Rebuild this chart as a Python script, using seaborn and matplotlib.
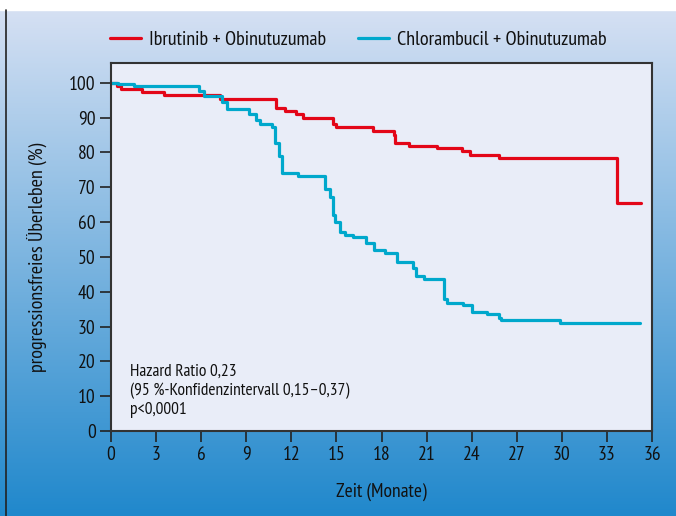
import numpy as np
import matplotlib
matplotlib.use("Agg")
import matplotlib.pyplot as plt
import seaborn as sns
import pandas as pd

# Kaplan-Meier step data: time of each event (months) and survival after it (%)
ibru_t = [0, 0.4, 0.65, 2.05, 3.55, 7.25, 11.0, 11.6, 12.3, 12.8, 14.75, 15.0,
          17.45, 18.8, 18.9, 19.85, 21.7, 23.35, 23.9, 25.85, 33.65, 35.25]
ibru_s = [100, 99.2, 98.2, 97.3, 96.5, 95.4, 92.7, 92.0, 91.0, 90.0, 88.2, 87.3,
          86.3, 84.9, 82.8, 82.0, 81.2, 80.3, 79.3, 78.3, 65.4, 65.4]

chlor_t = [0, 0.45, 1.55, 5.88, 6.2, 7.36, 7.74, 9.18, 9.63, 9.91, 10.7, 10.91,
           11.15, 11.36, 12.46, 14.22, 14.57, 14.74, 14.93, 15.24, 15.57, 16.1,
           16.97, 17.5, 18.23, 19.0, 20.1, 20.3, 20.8, 22.17, 22.33, 23.44, 24.0,
           25.0, 25.8, 25.97, 29.85, 35.2]
chlor_s = [100, 99.6, 99.1, 97.6, 96.1, 94.4, 92.6, 91.0, 89.2, 88.1, 87.4, 82.8,
           79.0, 74.2, 73.2, 69.5, 67.2, 62.1, 59.9, 57.2, 56.4, 55.6,
           53.9, 52.0, 51.2, 48.5, 46.9, 44.5, 43.6, 37.8, 36.7, 36.2, 34.1,
           33.5, 32.6, 31.9, 30.9, 30.9]

arm_names = ["Ibrutinib + Obinutuzumab", "Chlorambucil + Obinutuzumab"]
arm_colors = ["#e30618", "#00a8cc"]
x_ticks = list(range(0, 37, 3))
y_ticks = list(range(0, 101, 10))
stats_lines = ["Hazard Ratio 0,23",
               "(95 %-Konfidenzintervall 0,15\u20130,37)",
               "p<0,0001"]

df = pd.concat([
    pd.DataFrame({"t": ibru_t, "s": ibru_s, "arm": arm_names[0]}),
    pd.DataFrame({"t": chlor_t, "s": chlor_s, "arm": arm_names[1]}),
])

sns.set_theme(style="white")
plt.rcParams["font.family"] = ["PT Sans Narrow", "DejaVu Sans"]
plt.rcParams["text.color"] = "#111111"

W, H = 676, 516
fig = plt.figure(figsize=(W / 100, H / 100), dpi=100)

# page background: white strip on top, blue vertical gradient below
bg = fig.add_axes([0, 0, 1, 1], zorder=-10)
top = np.array([213, 224, 243]) / 255
bot = np.array([32, 136, 204]) / 255
f = np.linspace(0, 1, 256)[:, None]
grad = top[None, :] * (1 - f) + bot[None, :] * f
img = np.repeat(grad[:, None, :], 2, axis=1)
bg.imshow(img, extent=[0, W, H, 10], aspect="auto", interpolation="bilinear")
bg.add_patch(plt.Rectangle((0, 0), W, 10, color="white"))
bg.plot([5.5, 5.5], [10, H], color="#222222", lw=1.2)
bg.set_xlim(0, W)
bg.set_ylim(H, 0)
bg.axis("off")

ax = fig.add_axes([111 / W, 1 - 431 / H, (652 - 111) / W, (431 - 63) / H])
ax.set_facecolor("#e9edf8")

sns.lineplot(data=df, x="t", y="s", hue="arm", palette=arm_colors,
             drawstyle="steps-post", estimator=None, sort=False,
             linewidth=2.3, ax=ax, legend=False)

ax.set_xlim(0, 36)
ax.set_ylim(0, 105.7)
ax.set_xticks(x_ticks)
ax.set_yticks(y_ticks)
ax.tick_params(axis="both", direction="out", length=8, width=1.2,
               color="#222222", labelsize=14, pad=3, labelcolor="#111111")
ax.tick_params(axis="both", which="both", bottom=True, left=True)
for sp in ax.spines.values():
    sp.set_color("#333333")
    sp.set_linewidth(1.5)
    sp.set_visible(True)

ax.set_xlabel("Zeit (Monate)", fontsize=14, labelpad=13, color="#111111")
ax.set_ylabel("progressionsfreies \u00dcberleben (%)", fontsize=14.5, color="#111111")
ax.yaxis.set_label_coords(-0.118, 50 / 105.7)

for i, line in enumerate(stats_lines):
    ax.text(1.27, 17 - i * 5.5, line, fontsize=12.5, va="center", ha="left",
            color="#111111")

handles = [plt.Line2D([], [], color=c, lw=2.3) for c in arm_colors]
fig.legend(handles, arm_names, loc="center", bbox_to_anchor=(0.53, 0.922),
           ncol=2, frameon=False, fontsize=14.5, handlelength=1.55,
           handletextpad=0.4, columnspacing=1.6)

fig.savefig("out.png", dpi=100)
